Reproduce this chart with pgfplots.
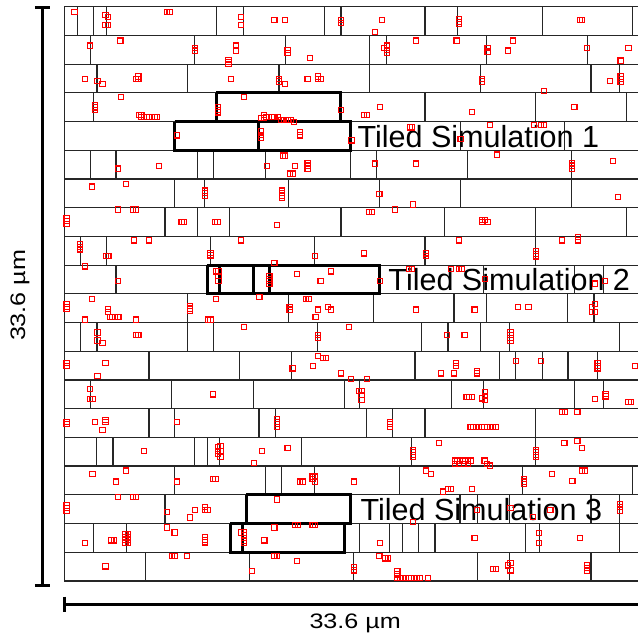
\documentclass[border=0pt]{standalone}
\usepackage{pgfplots}
\pgfplotsset{compat=1.18}
\usepackage{pgfplotstable}
\usepackage{fontspec}
\setmainfont{Liberation Sans}

% row r spans y = 6.7+28.78*r .. 6.7+28.78*(r+1), pixel units, y downwards
\pgfplotstableread{
x r
77.3 0
94 0
107 0
217.3 0
243.7 0
325.3 0
341.7 0
426 0
458.3 0
543.7 0
634.3 0
90.7 1
194.7 1
286.3 1
370.3 1
387 1
487.7 1
589 1
97.3 2
188.3 2
279.7 2
370.3 2
481.3 2
592.3 2
621.3 2
94 3
426 3
537 3
627.7 3
461.3 4
565.7 4
90.7 5
116.3 5
198 5
214 5
266.3 5
351.3 5
377 5
468.3 5
572.7 5
175.3 6
204.7 6
289.3 6
380.3 6
461.7 6
572.7 6
165.3 7
198.3 7
230.3 7
341.7 7
445.7 7
536.7 7
628 7
80.7 8
107 8
211.3 8
315.3 8
426 8
537 8
116.3 9
485 9
576 9
605 9
188.3 10
289.3 10
374 10
455 10
487.7 10
569 10
595.3 10
80.7 11
97.3 11
188.3 11
214 11
318.3 11
422.7 11
449 11
481.3 11
510.3 11
621.3 11
149.3 12
240.3 12
292.3 12
416 12
501 12
517 12
543.7 12
569.3 12
599 12
90.7 13
171.7 13
253.7 13
345 13
360.7 13
452.3 13
485 13
575.7 13
604.7 13
149.3 14
175 14
259.7 14
276.3 14
367.3 14
393.7 14
426 14
536.7 14
97 15
113.3 15
194.7 15
208 15
220.3 15
302.3 15
412.7 15
536.7 15
175.3 16
266.3 16
282.3 16
315 16
400.3 16
523.7 16
634 16
165.3 17
461 17
478.3 17
510.7 17
592.3 17
621 17
94 18
126.7 18
360.7 18
390.3 18
403.3 18
419.7 18
436 18
527 18
540.7 18
621 18
146 19
250.3 19
354.3 19
478.3 19
510.7 19
592.3 19
}\dividers

% bold dividers inside the tiled simulation boxes
\pgfplotstableread{
x r
216.7 3
341.7 3
175 4
259.3 4
351 4
207.7 9
220.3 9
253.7 9
270 9
380.3 9
246.7 17
351.5 17
230.7 18
243.3 18
345 18
}\bolddividers

\pgfplotstableread{
x y
74.7 12
105.7 15
108.3 16.7
105.7 25
108.3 25
167.3 12
170 12
241.7 16.7
241.7 25
275 20
285.7 20
342 19.7
342 23
383 19.7
375.7 32.3
460.3 19.3
460.3 21.8
460.3 24.3
581 19.7
583.7 19.7
90 45.7
120.7 40.7
195.7 48.3
195.7 50.7
236.7 45.7
236.7 50.7
229 60
229 62.3
229 64.5
288.3 50
288.3 53.3
311 58.3
385 48.3
387.7 45.7
387.7 50
387.7 53.3
416.7 40.7
457.7 40.7
488.7 48.3
488.7 51.7
514.3 40.7
509 50.7
588.7 48.3
630 48.3
622 60.7
85 79
97.7 81.3
102.7 84
136 79
138.7 76.7
138.7 79
231.3 79
280 79
280 81.7
285.7 84
308.3 79
319 76.7
319 79
322 79
483.3 79
483.3 81.7
611.7 81.3
622 76.7
622 79.3
622 82
545 91.3
121 97
95 105
95 107.7
95 110.3
218.7 107.3
218.7 110
218.7 112.7
244.3 97
342 110
139 115
141.7 115
141.7 117.3
144.3 117.3
147 117.3
149.7 117.3
152.3 117.3
155 117.3
157.3 117.3
261.7 118.3
264.3 115
264.3 118.3
267 117.3
269.7 117.3
272.3 117.3
275 117.3
278.3 117.3
281.7 120
285 120
288.3 120
291.7 120
295 122.3
380.7 107.3
365 115
367.7 115
473.3 112.3
575.7 107.3
177.3 135.7
261.7 131.7
261.7 135
261.7 138.3
300.7 132.3
300.7 135.7
352.3 140.7
410.7 127.7
413.3 127.7
461.7 139.3
491 125
535 125
542.3 125
545 125
498.5 155
118.3 169
159.3 166.3
267.3 166.3
295.7 166.3
283.3 156
286 156
308.3 163.3
308.3 166
308.3 169
291 174
293.7 174
375.7 164
416.7 164
573.3 163.3
573.3 166
573.3 169
614.7 161.3
92.3 187
126 184.3
205.3 191
205.3 193.7
205.3 196.3
283 191
283 193.5
283 196
283 198.3
380.3 194.7
413.7 205
619.7 197.3
118.3 210
133.3 210
136 210
66.7 219
66.7 221.7
66.7 224.3
182 222.7
184.7 222.7
215.3 222.7
218 222.7
278 225.7
370 212.3
372.7 212.3
395.7 210
483.3 220.7
486 220.7
483.3 222.7
488.7 222.7
80 245
80 247.5
80 250
134 241
149.3 241
106 256.3
108.7 256.3
211 253.3
211 256
241.7 241
316 256.3
275 263.7
460.3 241
365 254
426.7 254
426.7 256.7
537 251.7
537 254.3
537 257
563 241
579 237.7
579 241
85 267
118.3 282
216.3 272
219 272
219 277
219 282
270 277
270 279.5
270 282
270 284.7
298 274.7
331.7 272
321.3 282
410 269.3
412.7 269.3
452.3 269.3
460 269.3
462.7 269.3
380.7 282
486 280
596.7 284.3
606.7 281.7
66.7 305
66.7 307.5
66.7 310
92.3 300
108.3 310
108.3 312.7
110 317.7
112.7 317.7
115.3 317.7
118.7 317.7
85 320.3
136 320.3
190.3 306.7
190.3 309.3
190.3 312
216.3 300
208.3 320.3
211 320.3
260 297.7
290.3 307.7
290.3 310.3
306.7 300
309.3 300
319 310.3
316.3 317.7
329 307.7
331.7 310.3
416.7 310.3
475.7 310.3
519 307.7
529.7 307.7
593.3 307.7
596.7 305
593.3 312.7
596.7 312.7
97.7 333.3
97.7 341.3
102.7 343.7
136 336
138.7 336
244.3 328
319 336
319 338.7
350 328
447.7 336
465.7 336
511.7 333.3
511.7 336
511.7 338.7
511.7 341.3
66.7 364
66.7 366.7
105.7 364
97.7 376.7
318.7 356.7
324 359
326.7 359
293.3 369.3
313.7 366.7
342 374.3
352 379.7
457.3 364
457.3 366.7
442.3 374.3
455 374.3
478.3 371.7
478.3 374.3
517 361.7
542.3 361.7
599 364
599 366.7
599 369.3
636.7 366.7
367.7 379.7
90 390
90 400
92.7 400
213.7 395.3
359.7 392
362.3 392
362.3 396
362.3 401
467.7 398
470.3 398
473 398
483.3 399.3
486 392.7
486 396.7
486 401
596.7 400
607 394.7
607 397.3
630 402.7
632.7 402.7
66.7 422.7
66.7 425.3
95 423.3
105.7 420.7
105.7 423.3
102.7 431
177.3 423.3
278 420
278 422.7
278 425.3
278 428
391 422.7
391 425.3
391 428
471.7 428.3
474.5 428.3
477.3 428.3
480 428.3
482.8 428.3
485.6 428.3
488.3 428.3
491.1 428.3
493.9 428.3
496.7 428.3
563.3 413.3
566 413.3
578.7 413.3
144 451.7
218.3 448.3
221 447
218.3 451.7
221 451.7
218.3 455
221 458.3
262.3 451.7
288.3 449
254.3 464.3
440 444
414 450.7
414 453.2
414 455.8
414 458.3
537.3 450.7
537.3 453.2
537.3 455.8
537.3 458.3
565.7 444
578.7 441.7
583.7 449
455.7 461.7
458.4 461.7
461.1 461.7
463.8 461.7
466.5 461.7
469.2 461.7
471.7 461.7
455.7 465
460 465
465 465
469 465
485.7 461.7
488.3 465
491 466.7
92.7 475
126.3 471.7
116 482.7
177.3 482.7
213.3 480
216 480
300.7 482.7
303.3 482.7
313.3 477.7
316 477.7
313.3 480
316 482.7
355 482.7
426.7 471.7
432 475
525 480
525 482.7
525 485.3
553 475
573.7 482.3
583.7 471.7
586.3 471.7
449 490
451.7 490
444.3 492.7
473 490
118.3 498.3
133.3 498.3
136 498.3
66.7 506.7
66.7 509.3
66.7 512
167.3 513.3
195.7 511
190.3 518.7
205.3 508.3
205.3 511
208 511
278 500.7
413.7 523.3
478.3 511
511.7 509
534.3 518.3
551.7 511
621.7 505
621.7 508.3
621.7 511.7
85 544.3
167.3 528.7
175 533.7
111.7 541.7
114.3 541.7
125.7 535
128.3 535
125.7 538
128.3 538
125.7 541
128.3 541
125.7 544
128.3 544
205.3 538.3
205.3 541
205.3 543.7
241.7 533.7
244.3 533.7
244.3 536.5
244.3 539.3
244.3 542
244.3 544.3
265 541.7
275 528.7
296 526
298.7 526
313.3 526
316 526
380.7 544.3
475.7 539.3
540 534
540 544.3
581 539.3
105.7 567.7
172.3 557
175 557
187.7 557
275 557
277.7 557
298 562.3
252.3 572.3
355 568.3
355 571.7
380.3 557
386.3 559.7
389 559.7
398.3 572.3
398 579
400.9 579
403.8 579
406.6 579
409.5 579
412.4 579
415.3 579
418.1 579
421 579
398.3 575.7
429.3 579.7
494.3 570
497 570
509 566.7
511.7 564.3
511.7 571.7
588.3 566.7
588.3 569.3
588.3 572
}\particles

\begin{document}
\begin{tikzpicture}
\begin{axis}[
  scale only axis, width=319.5pt, height=318pt,
  xmin=0, xmax=639, ymin=0, ymax=636, y dir=reverse,
  hide axis, clip=false,
]
\path (rel axis cs:0,0) rectangle (rel axis cs:1,1);

% row boundaries
\addplot[no markers, black!85, line width=0.6pt, quiver={u=574.5, v=0}]
  table[x expr=64.5, y expr={6.7+28.78*\thisrow{r}}] {
r
0
1
2
3
4
5
6
7
8
9
10
11
12
13
14
15
16
17
18
19
20
};
% left edge of the domain
\addplot[no markers, black!85, line width=0.6pt, quiver={u=0, v=575.6}]
  coordinates {(64.5,6.7)};

% grain dividers
\addplot[no markers, black!85, line width=0.6pt, quiver={u=0, v=28.78}]
  table[x=x, y expr={6.7+28.78*\thisrow{r}}] {\dividers};

% tiled simulation boxes
\addplot[no markers, black, line width=1.5pt] coordinates {
  (216.7,93.04) (341.7,93.04) (341.7,121.82) (216.7,121.82) (216.7,93.04)};
\addplot[no markers, black, line width=1.5pt] coordinates {
  (175,121.82) (351,121.82) (351,150.6) (175,150.6) (175,121.82)};
\addplot[no markers, black, line width=1.5pt] coordinates {
  (207.7,265.72) (380.3,265.72) (380.3,294.5) (207.7,294.5) (207.7,265.72)};
\addplot[no markers, black, line width=1.5pt] coordinates {
  (246.7,495.96) (351.5,495.96) (351.5,524.74) (246.7,524.74) (246.7,495.96)};
\addplot[no markers, black, line width=1.5pt] coordinates {
  (230.7,524.74) (345,524.74) (345,553.52) (230.7,553.52) (230.7,524.74)};
\addplot[no markers, black, line width=1.5pt, quiver={u=0, v=28.78}]
  table[x=x, y expr={6.7+28.78*\thisrow{r}}] {\bolddividers};

% particles
\addplot[red, only marks, mark=square, mark size=1.3pt,
  mark options={solid, draw=red, line width=0.55pt, fill=none}]
  table[x=x, y=y] {\particles};

% labels
\node[anchor=west, inner sep=0pt, font=\fontsize{15.3}{15.3}\selectfont]
  at (axis cs:358,137) {Tiled Simulation 1};
\node[anchor=west, inner sep=0pt, font=\fontsize{15.3}{15.3}\selectfont]
  at (axis cs:389,280.5) {Tiled Simulation 2};
\node[anchor=west, inner sep=0pt, font=\fontsize{15.3}{15.3}\selectfont]
  at (axis cs:361,510.5) {Tiled Simulation 3};

% scale bars
\draw[line width=1.5pt] (axis cs:42.7,8) -- (axis cs:42.7,587.3);
\draw[line width=1.5pt] (axis cs:35,8) -- (axis cs:50.5,8);
\draw[line width=1.5pt] (axis cs:35,587.3) -- (axis cs:50.5,587.3);
\draw[line width=1.5pt] (axis cs:65,605.5) -- (axis cs:639,605.5);
\draw[line width=1.5pt] (axis cs:65,598) -- (axis cs:65,613);
\node[inner sep=0pt, font=\fontsize{10.5}{10.5}\selectfont]
  at (axis cs:356,625) {\scalebox{1.2}[1]{33.6 µm}};
\node[inner sep=0pt, rotate=90, font=\fontsize{10.5}{10.5}\selectfont]
  at (axis cs:20,296) {\scalebox{1.2}[1]{33.6 µm}};
\end{axis}
\end{tikzpicture}
\end{document}
